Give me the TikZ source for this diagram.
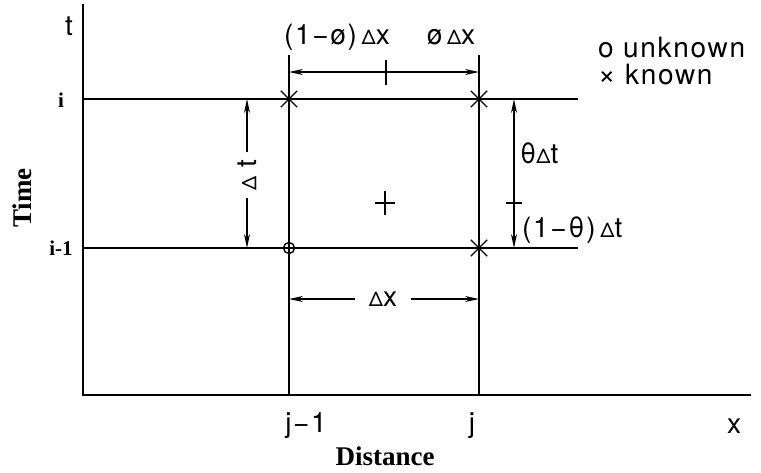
\documentclass[tikz,border=0pt]{standalone}
\usepackage{fontspec}
\setmainfont{TeX Gyre Heros}[LetterSpace=6]
\newfontfamily\lblfont{Liberation Serif}
\usetikzlibrary{arrows.meta,shapes.misc,positioning}

\newcommand{\sd}{{\fontsize{20}{20}\selectfont Δ}}

\begin{document}
\begin{tikzpicture}[
    x=1pt, y=-1pt,
    font=\fontsize{28}{32}\selectfont,
    >={Stealth[length=14pt,width=6pt]},
    % --- line styles ---
    axis/.style    = {line width=2.6pt},
    gridline/.style = {line width=2pt},
    dimline/.style = {line width=1.6pt},
    % --- markers ---
    known/.style   = {cross out, draw, line width=1.4pt,
                      minimum size=15pt, inner sep=0pt},
    unknown/.style = {circle, draw, line width=1.4pt,
                      minimum size=11pt, inner sep=0pt},
    % --- labels ---
    serif/.style = {font=\lblfont\bfseries\fontsize{27}{30}\selectfont},
    idx/.style   = {font=\lblfont\bfseries\fontsize{21}{24}\selectfont},
]
\useasboundingbox (0,0) rectangle (761,472);

%============ AXES ============
\coordinate (ttop) at (83,4);
\coordinate (O)    at (83,395);
\coordinate (xend) at (751,395);
\draw[axis] (ttop) -- (O) -- (xend);

%============ GRID LINES ============
\coordinate (iL)  at (83,99);   \coordinate (iR)  at (578,99);
\coordinate (imL) at (83,248);  \coordinate (imR) at (578,248);
\coordinate (jaT) at (289,55);  \coordinate (jaB) at (289,395);
\coordinate (jbT) at (479,55);  \coordinate (jbB) at (479,395);

\draw[gridline] (iL) -- (iR);
\draw[gridline] (imL) -- (imR);
\draw[gridline] (jaT) -- (jaB);
\draw[gridline] (jbT) -- (jbB);

%============ MARKERS ============
\node[known]   (kni)  at (289,99)  {};
\node[known]   (knj)  at (479,99)  {};
\node[known]   (knjm) at (479,248) {};
\node[unknown] (unk)  at (289,248) {};

% centre of the cell
\coordinate (ctr) at (385,203);
\draw[dimline] (ctr) ++(-10,0) -- ++(20,0);
\draw[dimline] (ctr) ++(0,-12) -- ++(0,24);

%============ TOP DIMENSION (phi) ============
\coordinate (phiM) at (386,72);
\draw[dimline,->] (phiM) -- (phiM -| jaT);
\draw[dimline,->] (phiM) -- (phiM -| jbT);
\draw[dimline] (phiM) ++(0,-12) -- ++(0,25);

\node[anchor=base] (phil) at (337,44) {(1−ø)\,\sd x};
\node[anchor=base] (phir) at (451,44) {ø\,\sd x};

%============ LEFT DIMENSION (dt) ============
\node[rotate=90, inner sep=7pt] (dtl) at (247,175) {\sd\ t};
\draw[dimline,->] (dtl.east) -- (dtl.east |- iL);
\draw[dimline,->] (dtl.west) -- (dtl.west |- imL);

%============ RIGHT DIMENSION (theta) ============
\coordinate (thT) at (514,99);
\coordinate (thB) at (514,248);
\coordinate (thM) at (514,203);
\draw[dimline,<->] (thT) -- (thB);
\draw[dimline] (thM) ++(-8,0) -- ++(16,0);

\node[anchor=base west, inner sep=0pt] (thlbl)  at (520,163) {θ\sd t};
\node[anchor=base west, inner sep=0pt] (omtlbl) at (522,237) {(1−θ)\,\sd t};

%============ BOTTOM DIMENSION (dx) ============
\node[inner xsep=14pt] (dxlbl) at (383,299) {\sd x};
\draw[dimline,->] (dxlbl.west) -- (dxlbl.west -| jaT);
\draw[dimline,->] (dxlbl.east) -- (dxlbl.east -| jbT);

%============ AXIS LABELS ============
\node (tlbl) at (69,26) {t};
\node[anchor=base] (xlbl) at (734,433) {x};
\node[idx] (ilbl)  at (61,100) {i};
\node[idx] (imlbl) at (61,248) {i-1};
\node[anchor=base] (jalbl) at (306,432) {j−1};
\node[anchor=base] (jblbl) at (472,432) {j};
\node[serif, rotate=90] (timelbl) at (22,198) {Time};
\node[serif, anchor=base] (distlbl) at (385,465) {Distance};

%============ LEGEND ============
\node[anchor=base west, inner sep=0pt] (legu) at (598,57) {o unknown};
\node[anchor=base west, inner sep=0pt] (legk) at (598,84)
  {\smash{\fontsize{30}{30}\selectfont ×} known};

\end{tikzpicture}
\end{document}
